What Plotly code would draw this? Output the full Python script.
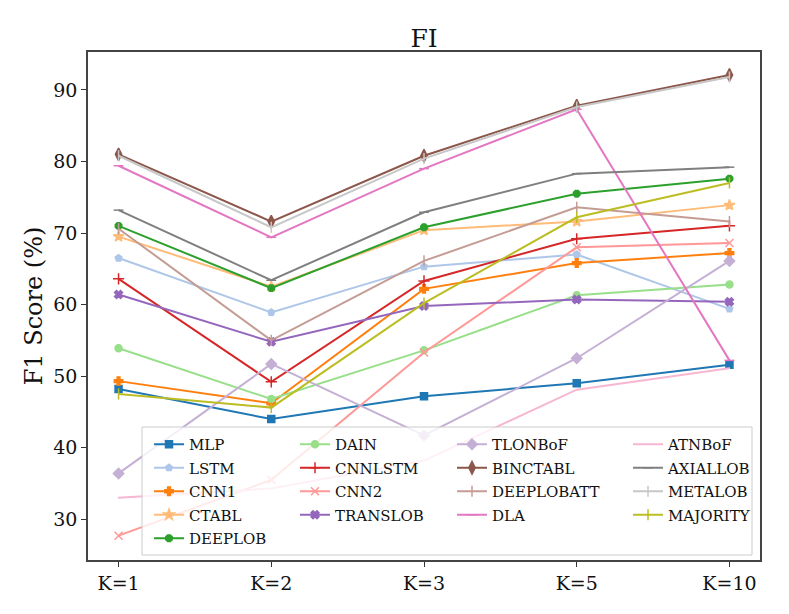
import plotly.graph_objects as go

categories = ["K=1", "K=2", "K=3", "K=5", "K=10"]

names = ["MLP", "LSTM", "CNN1", "CTABL", "DEEPLOB",
         "DAIN", "CNNLSTM", "CNN2", "TRANSLOB",
         "TLONBoF", "BINCTABL", "DEEPLOBATT", "DLA",
         "ATNBoF", "AXIALLOB", "METALOB", "MAJORITY"]

mlp        = [48.2, 44.0, 47.2, 49.0, 51.6]
lstm       = [66.5, 58.9, 65.3, 67.0, 59.4]
cnn1       = [49.3, 46.2, 62.2, 65.8, 67.2]
ctabl      = [69.5, 62.5, 70.4, 71.6, 73.9]
deeplob    = [71.0, 62.3, 70.8, 75.5, 77.6]
dain       = [53.9, 46.8, 53.6, 61.3, 62.8]
cnnlstm    = [63.6, 49.2, 63.3, 69.2, 71.0]
cnn2       = [27.7, 35.5, 53.3, 68.0, 68.6]
translob   = [61.4, 54.8, 59.8, 60.7, 60.4]
tlonbof    = [36.4, 51.7, 41.7, 52.5, 66.1]
binctabl   = [81.0, 71.6, 80.8, 87.8, 92.1]
deeplobatt = [70.6, 55.0, 66.1, 73.6, 71.6]
dla        = [79.4, 69.4, 79.0, 87.3, 52.2]
atnbof     = [33.0, 34.3, 38.2, 48.1, 51.1]
axiallob   = [73.2, 63.4, 72.9, 78.3, 79.2]
metalob    = [80.8, 70.8, 80.4, 87.6, 91.8]
majority   = [47.5, 45.6, 60.2, 72.2, 77.0]

series = [mlp, lstm, cnn1, ctabl, deeplob, dain, cnnlstm, cnn2, translob,
          tlonbof, binctabl, deeplobatt, dla, atnbof, axiallob, metalob, majority]

colors = ["#1f77b4", "#aec7e8", "#ff7f0e", "#ffbb78", "#2ca02c", "#98df8a",
          "#d62728", "#ff9896", "#9467bd", "#c5b0d5", "#8c564b", "#c49c94",
          "#e377c2", "#f7b6d2", "#7f7f7f", "#c7c7c7", "#bcbd22"]

symbols = ["square", "pentagon", "cross", "star", "octagon", "circle",
           "cross-thin-open", "x-thin-open", "x", "diamond", "diamond-tall",
           "line-ns-open", "line-ew-open", "line-ew-open", "line-ew-open",
           "line-ns-open", "line-ns-open"]
sizes = [7, 7, 7, 8, 7, 7, 8, 8, 7, 8, 9, 8, 7, 1, 7, 8, 8]

legend_of = ["legend"] * 5 + ["legend2"] * 4 + ["legend3"] * 4 + ["legend4"] * 4

fig = go.Figure()
for i, (n, ys) in enumerate(zip(names, series)):
    fig.add_trace(go.Scatter(
        x=list(range(len(categories))), y=ys, name=n, mode="lines+markers",
        line=dict(color=colors[i], width=2),
        marker=dict(symbol=symbols[i], size=sizes[i], color=colors[i],
                    line=dict(color=colors[i], width=1.5)),
        legend=legend_of[i], legendgroup=n,
    ))

font = "DejaVu Serif"
OFF = 8                      # page body margin
FW, FH = 789 - OFF, 614 - OFF
PL, PR, PT, PB = 88, 760, 52, 560   # plot area in page pixels
L, R, T, B = PL - OFF, OFF + FW - PR, PT - OFF, OFF + FH - PB

def px_x(p):
    return (p - PL) / (PR - PL)

def px_y(p):
    return (PB - p) / (PB - PT)

def leg(xpx):
    return dict(x=px_x(xpx), y=px_y(428), xanchor="left", yanchor="top",
                bgcolor="rgba(0,0,0,0)", borderwidth=0,
                font=dict(family=font, size=15, color="#111"),
                tracegroupgap=1, itemwidth=30)

fig.update_layout(
    width=FW, height=FH,
    margin=dict(l=L, r=R, t=T, b=B, autoexpand=False),
    paper_bgcolor="white", plot_bgcolor="white",
    title=dict(text="FI", x=0.5, xref="paper", xanchor="center",
               y=1 - (38 - OFF) / FH, yanchor="middle",
               font=dict(family=font, size=25, color="#111")),
    legend=leg(149), legend2=leg(295), legend3=leg(452), legend4=leg(628),
    shapes=[dict(type="rect", xref="paper", yref="paper",
                 x0=px_x(142), x1=px_x(752), y0=px_y(555), y1=px_y(427),
                 fillcolor="rgba(255,255,255,0.8)",
                 line=dict(color="#cccccc", width=1), layer="above")],
)

fig.update_xaxes(
    range=[-0.2, 4.2], tickmode="array", tickvals=list(range(len(categories))),
    ticktext=categories, ticks="outside", ticklen=5, tickcolor="#333",
    showline=True, mirror=True, linecolor="#444", linewidth=1.5,
    showgrid=False, zeroline=False, automargin=False,
    tickfont=dict(family=font, size=19, color="#111"),
)
fig.update_yaxes(
    range=[24.3, 95.3], tickvals=[30, 40, 50, 60, 70, 80, 90],
    ticks="outside", ticklen=5, tickcolor="#333",
    showline=True, mirror=True, linecolor="#444", linewidth=1.5,
    showgrid=False, zeroline=False, automargin=False,
    tickfont=dict(family=font, size=19, color="#111"),
    title=dict(text="F1 Score (%)", font=dict(family=font, size=24, color="#111"),
               standoff=4),
)

fig.write_html("out.html")
